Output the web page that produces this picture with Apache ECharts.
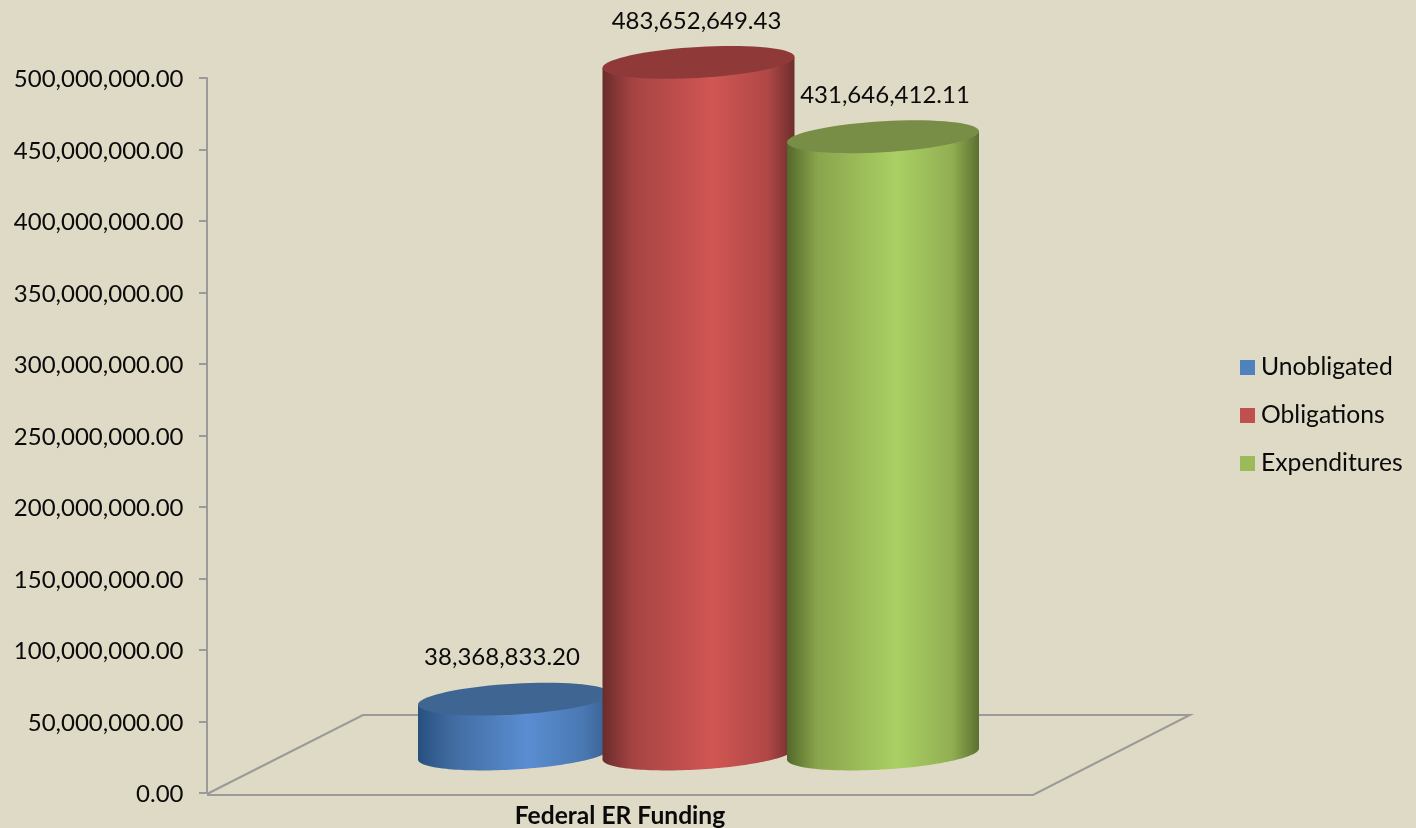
<!DOCTYPE html>
<html><head><meta charset="utf-8">
<style>html,body{margin:0;padding:0;background:#dedac5}#c{width:1416px;height:828px}</style>
<script src="https://cdn.jsdelivr.net/npm/echarts@6/dist/echarts.min.js"></script>
</head><body><div id="c"></div>
<script>
const categories = ['Federal ER Funding'];
const seriesNames = ['Unobligated', 'Obligations', 'Expenditures'];
const unobligated = [38368833.20];
const obligations = [483652649.43];
const expenditures = [431646412.11];
const FONT = 'Lato';

const fmt = v => Number(v).toLocaleString('en-US', {minimumFractionDigits: 2, maximumFractionDigits: 2});

// presentation of the 3D look (pixels relative to the axis scale)
const baseLift = 39, rx = 96, ry = 15.5, shear = 5.5;
const looks = [
  {off: -106, labelDx: -12, legend: '#4f81bd', top: '#3f6692',
   stops: ['#27507f', '#3f6a9e', '#5a8dd2', '#4a78b2', '#376090']},
  {off: 78.5, labelDx: -2, legend: '#c0504d', top: '#8f3a39',
   stops: ['#692c2b', '#a64443', '#d05653', '#b04846', '#6d2e2d']},
  {off: 263, labelDx: 2, legend: '#9bbb59', top: '#788d45',
   stops: ['#53692a', '#8aa54c', '#aad064', '#92ae52', '#5a7030']}
];

function ellipsePts(cx, cy, from, to) {
  const pts = [];
  const n = 72;
  for (let i = 0; i <= n; i++) {
    const t = from + (to - from) * i / n;
    pts.push([cx + rx * Math.cos(t), cy + ry * Math.sin(t) - shear * Math.cos(t)]);
  }
  return pts;
}

function cylinder(look) {
  return function (params, api) {
    const p = api.coord([api.value(0), api.value(1)]);
    const zero = api.coord([api.value(0), 0]);
    const cx = p[0] + look.off;
    const cyTop = p[1] - baseLift;
    const cyBase = zero[1] - baseLift;
    const front = ellipsePts(cx, cyBase, 0, Math.PI);
    const body = [[cx + rx, cyTop - shear]].concat(front, [[cx - rx, cyTop + shear]]);
    return {
      type: 'group',
      children: [
        {type: 'polygon', shape: {points: body}, style: {
          fill: new echarts.graphic.LinearGradient(0, 0, 1, 0, [
            {offset: 0, color: look.stops[0]}, {offset: 0.16, color: look.stops[1]},
            {offset: 0.57, color: look.stops[2]}, {offset: 0.86, color: look.stops[3]},
            {offset: 1, color: look.stops[4]}])
        }},
        {type: 'polygon', shape: {points: ellipsePts(cx, cyTop, 0, Math.PI * 2)}, style: {fill: look.top}},
        {type: 'text', style: {
          x: cx + look.labelDx, y: cyTop - 41.5, text: fmt(api.value(1)),
          fill: '#0a0a0a', font: '24px ' + FONT, align: 'center', verticalAlign: 'middle'
        }}
      ]
    };
  };
}

function floorItem(params, api) {
  const o = api.coord([0, 0]);
  const xl = params.coordSys.x, xr = params.coordSys.x + params.coordSys.width, y = o[1];
  return {type: 'polyline', shape: {points: [
    [xl, y + 1], [xl + 156, y - 78], [xr + 157, y - 78], [xr, y + 2], [xl, y + 2]
  ]}, style: {stroke: '#9a9a98', lineWidth: 2, fill: null}};
}

const datasets = [unobligated, obligations, expenditures];
const chart = echarts.init(document.getElementById('c'));
chart.setOption({
  animation: false,
  backgroundColor: '#dedac5',
  grid: {left: 207, right: 383, top: 78, bottom: 35, outerBoundsMode: 'none'},
  legend: {
    orient: 'vertical', left: 1240, top: 355, padding: 0, itemWidth: 15, itemHeight: 15, itemGap: 23,
    icon: 'rect', data: seriesNames,
    textStyle: {fontFamily: FONT, fontSize: 24.7, color: '#0a0a0a', padding: [0, 0, 0, 1], lineHeight: 24}
  },
  xAxis: {
    type: 'category', data: categories,
    axisLine: {show: false}, axisTick: {show: false},
    axisLabel: {fontFamily: FONT, fontSize: 24.6, fontWeight: 'bold', color: '#0a0a0a', margin: 11}
  },
  yAxis: {
    type: 'value', min: 0, max: 500000000, interval: 50000000,
    splitLine: {show: false},
    axisLine: {show: true, lineStyle: {color: '#9a9a98', width: 2}},
    axisTick: {show: true, length: 8, lineStyle: {color: '#9a9a98', width: 2}},
    axisLabel: {fontFamily: FONT, fontSize: 24, color: '#0a0a0a', margin: 23.5, verticalAlign: 'top', lineHeight: 3, formatter: v => fmt(v)}
  },
  series: [
    {type: 'custom', name: '_floor', silent: true, renderItem: floorItem,
     data: [[0, 0]], encode: {x: 0, y: 1}, z: 1},
    ...seriesNames.map((name, i) => ({
      type: 'custom', name, z: 2 + i,
      itemStyle: {color: looks[i].legend},
      renderItem: cylinder(looks[i]),
      encode: {x: 0, y: 1},
      data: datasets[i].map((v, k) => [k, v])
    }))
  ]
});
</script></body></html>
